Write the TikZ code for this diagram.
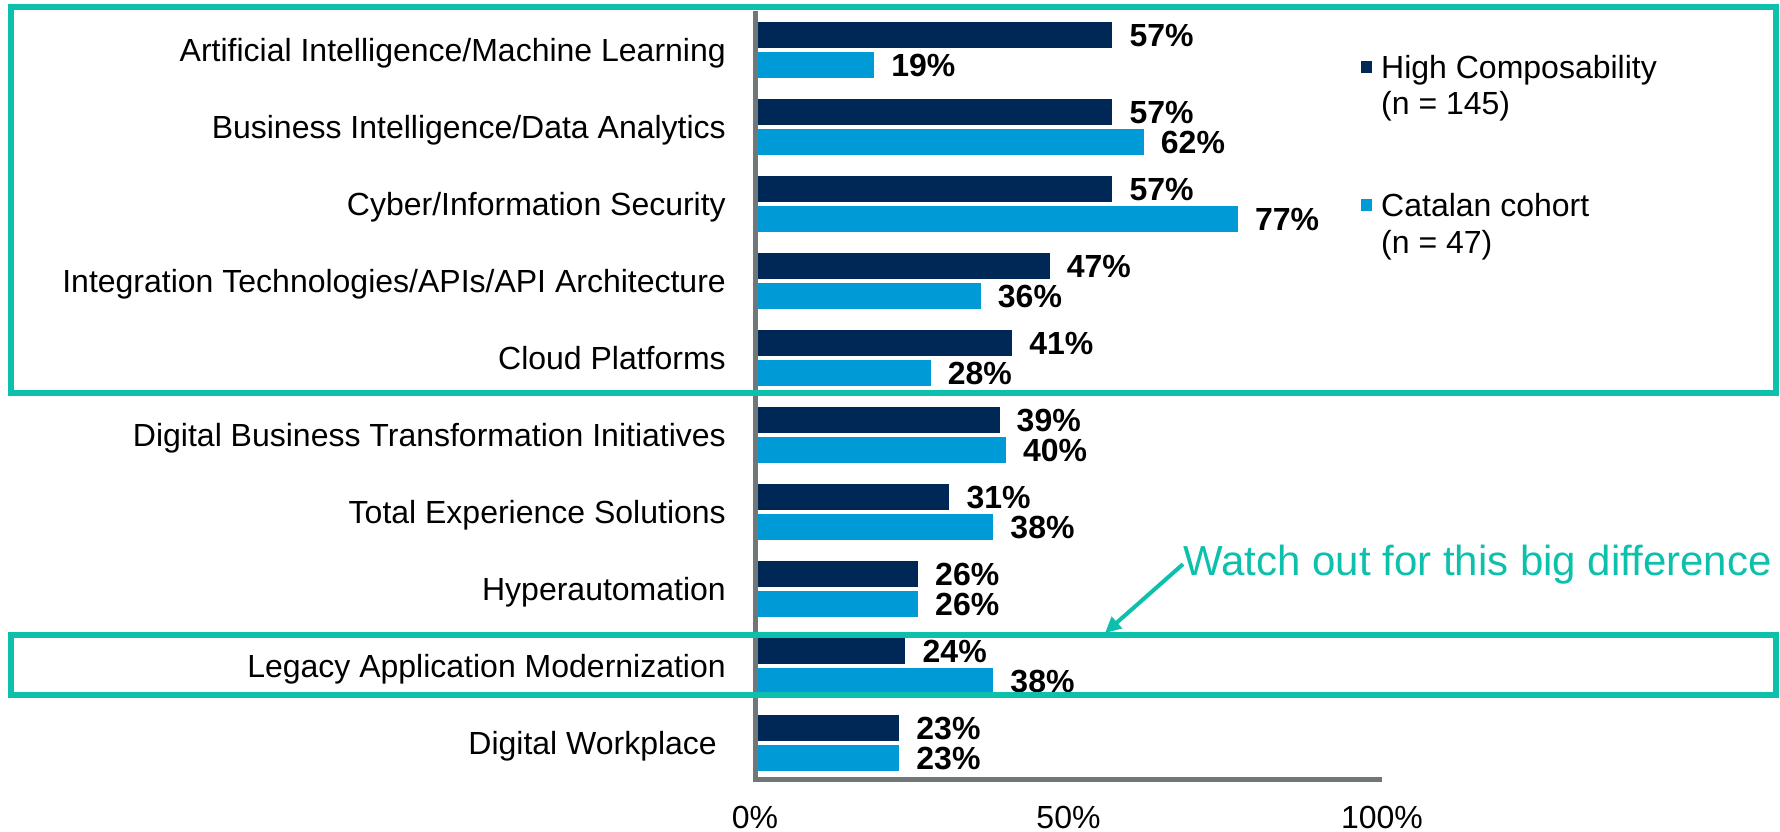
\documentclass[tikz,border=0pt]{standalone}
\usepackage{fontspec}
\setmainfont{Liberation Sans}
\usepackage{tikz}
\usetikzlibrary{arrows.meta}
\definecolor{hcnavy}{RGB}{0,40,86}
\definecolor{catblue}{RGB}{0,155,214}
\definecolor{markteal}{RGB}{12,192,172}
\definecolor{axisgray}{RGB}{111,119,121}
\tikzstyle{catlabel} = [anchor=base east, inner sep=0pt, font=\fontsize{32}{38}\selectfont]
\tikzstyle{vallabel} = [anchor=base west, inner sep=0pt, font=\fontsize{32}{38}\selectfont\bfseries]
\tikzstyle{legtext} = [anchor=base west, inner sep=0pt, font=\fontsize{32}{38}\selectfont]
\tikzstyle{ticklabel} = [anchor=base, inner sep=0pt, font=\fontsize{32}{38}\selectfont]
\tikzstyle{hcbar} = [fill=hcnavy]
\tikzstyle{catbar} = [fill=catblue]
\tikzstyle{markbox} = [draw=markteal, line width=6pt]
\tikzstyle{marknote} = [anchor=base west, inner sep=0pt, text=markteal, font=\fontsize{42}{48}\selectfont]
\tikzstyle{markarrow} = [draw=markteal, line width=4pt, -{Triangle[length=16pt,width=15pt]}]

\begin{document}
\begin{tikzpicture}[x=1pt, y=-1pt]
    \useasboundingbox (0,0) rectangle (1780,832);
    % bars, categories and values
    \foreach \i/\cat/\hc/\cc in {%
        0/{Artificial Intelligence/Machine Learning}/57/19,
        1/{Business Intelligence/Data Analytics}/57/62,
        2/{Cyber/Information Security}/57/77,
        3/{Integration Technologies/APIs/API Architecture}/47/36,
        4/{Cloud Platforms}/41/28,
        5/{Digital Business Transformation Initiatives}/39/40,
        6/{Total Experience Solutions}/31/38,
        7/{Hyperautomation}/26/26,
        8/{Legacy Application Modernization}/24/38,
        9/{Digital Workplace\hspace*{9pt}}/23/23}
    {
        \pgfmathsetmacro{\ymid}{50+77*\i}
        \fill[hcbar] (757,\ymid-28.3) rectangle (755+6.27*\hc,\ymid-2.3);
        \fill[catbar] (757,\ymid+2.3) rectangle (755+6.27*\cc,\ymid+28.3);
        \node[catlabel] (cat\i) at (726,\ymid+11.5) {\cat};
        \node[vallabel] (hc\i) at (755+6.27*\hc+17,\ymid-15.3+11.5) {\hc\%};
        \node[vallabel] (cc\i) at (755+6.27*\cc+17,\ymid+15.3+11.5) {\cc\%};
    }
    % axes
    \draw[axisgray, line width=5pt] (755,11) -- (755,779.5) -- (1382,779.5);
    \node[ticklabel] (tick0) at (755,828) {0\%};
    \node[ticklabel] (tick50) at (1068.5,828) {50\%};
    \node[ticklabel] (tick100) at (1382,828) {100\%};
    % legend
    \fill[hcbar] (1361,61) rectangle (1372,73);
    \node[legtext] (leghc) at (1381,78.5) {High Composability};
    \node[legtext] (leghcn) at (1381,114.5) {(n = 145)};
    \fill[catbar] (1361,199) rectangle (1372,211);
    \node[legtext] (legcc) at (1381,216.5) {Catalan cohort};
    \node[legtext] (legccn) at (1381,253.5) {(n = 47)};
    % highlight boxes
    \draw[markbox] (11,7) rectangle (1776,393);
    \draw[markbox] (11,635) rectangle (1776,695);
    \node[marknote] (note) at (1183,575) {Watch out for this big difference};
    \coordinate (tip) at (1105,633);
    \draw[markarrow] (note.west) -- (tip);
\end{tikzpicture}
\end{document}
